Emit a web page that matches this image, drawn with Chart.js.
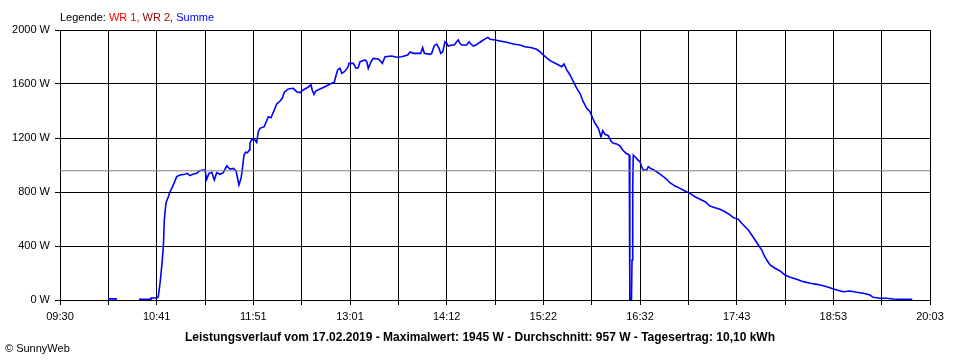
<!DOCTYPE html>
<html>
<head>
<meta charset="utf-8">
<script src="https://cdn.jsdelivr.net/npm/chart.js@4/dist/chart.umd.min.js"></script>
<style>
  html, body { margin: 0; padding: 0; background: #fff; }
  #wrap { position: relative; width: 960px; height: 360px; overflow: hidden; font-family: "Liberation Sans", Arial, sans-serif; }
  #chartBox { position: absolute; left: 0; top: 0; width: 960px; height: 360px; }
  .txt { position: absolute; white-space: nowrap; line-height: 14px; }
  #legend { left: 60px; top: 10px; font-size: 11px; color: #000; }
  #title { left: 0; width: 960px; top: 330px; text-align: center; font-size: 12px; font-weight: bold; color: #000; }
  #copy { left: 5px; top: 341px; font-size: 11px; color: #000; }
</style>
</head>
<body>
<div id="wrap">
  <div id="chartBox"><canvas id="c"></canvas></div>
  <div class="txt" id="legend">Legende: <span style="color:#ff0000">WR 1,</span> <span style="color:#990000">WR 2,</span> <span style="color:#0000ff">Summe</span></div>
  <div class="txt" id="title">Leistungsverlauf vom 17.02.2019 - Maximalwert: 1945 W - Durchschnitt: 957 W - Tagesertrag: 10,10 kWh</div>
  <div class="txt" id="copy">© SunnyWeb</div>
</div>
<script>
// x axis: minutes after 09:30, axis runs 09:30 .. 20:03
const axisStartLabel = '09:30';
const axisSpanMinutes = 633;
const xTickLabels = ['09:30','10:41','11:51','13:01','14:12','15:22','16:32','17:43','18:53','20:03'];
const yTickValues = [0, 400, 800, 1200, 1600, 2000];
const averageWatts = 957;

// "Summe" series (minutes after 09:30, watts); null = gap
const sumMinutes = [
  34.9, 41.5, 45,
  57.5, 65.5, 66.2, 70.6, 71.5, 72.8, 74.0, 75.2, 75.9, 77.1, 78.8, 80.0, 81.3, 82.9, 84.9, 87.3, 90.9, 92.6,
  94.6, 97.0, 99.5, 101.4, 105.5, 106.7, 108.4, 110.4, 112.3, 114.0, 116.4, 118.8, 121.3, 123.7, 126.1, 128.1,
  129.0, 130.2, 131.7, 132.6, 133.9, 135.1, 136.3, 137.7, 138.2, 139.5, 141.9, 143.1, 144.3, 145.5, 148.6, 149.6,
  151.6, 153.5, 155.9, 157.7, 160.1, 161.7, 163.2, 166.1, 169.7, 172.2, 174.6, 177.0, 180.7, 182.6, 183.5, 184.8,
  186.0, 189.2, 192.8, 196.4, 199.6, 200.6, 202.0, 203.7, 205.0, 206.9, 209.3, 210.3, 213.4, 215.4, 217.0, 218.3,
  221.9, 223.2, 224.3, 226.3, 228.0, 231.6, 233.6, 234.5, 236.5, 241.3, 245.0, 248.6, 253.0, 254.7, 257.1, 262.4,
  263.9, 265.1, 269.2, 270.4, 272.3, 274.1, 275.8, 277.0, 278.5, 280.1, 281.4, 282.5, 285.0, 286.9, 288.6, 289.8,
  291.0, 292.3, 295.9, 297.6, 299.0, 300.7, 302.7, 304.3, 306.1, 308.0, 309.9, 311.4, 312.9, 316.5, 320.1, 325.0,
  329.8, 334.7, 338.3, 343.2, 346.8, 349.2, 351.6, 356.5, 361.4, 365.0, 366.7, 368.7, 371.1, 373.5, 376.0, 378.3,
  380.7, 383.2, 385.6, 387.6, 389.3, 391.7, 393.6, 394.9, 396.5, 398.9, 400.7, 402.6, 405.0, 407.4, 409.4, 411.8,
  414.2, 414.6, 415.8, 416.2, 416.7, 417.1, 418.4, 420.0, 422.0, 423.2, 424.4, 426.9, 428.0, 430.5, 432.2, 434.1,
  436.6, 439.0, 441.4, 443.8, 447.5, 451.1, 454.7, 458.4, 462.0, 465.7, 469.3, 472.9, 476.6, 480.2, 483.8, 487.5,
  489.9, 493.5, 496.0, 498.4, 500.8, 503.3, 505.7, 508.1, 510.6, 512.2, 514.2, 516.6, 520.2, 523.9, 527.5, 531.2,
  536.0, 540.9, 545.7, 550.6, 555.4, 560.2, 565.1, 569.9, 574.8, 579.6, 584.5, 589.3, 591.7, 594.2, 596.6, 601.5,
  606.3, 613.6, 620.1
];
const sumWatts = [
  8, 8, null,
  5, 5, 15, 15, 25, 126, 247, 395, 593, 719, 765, 800, 827, 864, 914, 926, 931, 938,
  921, 933, 938, 957, 963, 894, 938, 946, 889, 943, 931, 943, 994, 970, 975, 957,
  913, 852, 901, 963, 1074, 1096, 1090, 1111, 1161, 1190, 1185, 1168, 1247, 1272, 1284, 1309,
  1358, 1350, 1407, 1452, 1474, 1494, 1539, 1563, 1568, 1543, 1536, 1556, 1578, 1593, 1556, 1524,
  1548, 1563, 1580, 1600, 1613, 1654, 1704, 1716, 1679, 1691, 1721, 1753, 1753, 1716, 1721, 1765,
  1778, 1765, 1716, 1765, 1790, 1785, 1765, 1753, 1802, 1807, 1798, 1802, 1815, 1837, 1827, 1827,
  1869, 1827, 1820, 1827, 1884, 1896, 1864, 1827, 1839, 1913, 1901, 1881, 1889, 1889, 1913, 1926,
  1901, 1889, 1889, 1913, 1896, 1881, 1889, 1901, 1913, 1926, 1938, 1945, 1931, 1926, 1919, 1909,
  1896, 1889, 1876, 1869, 1857, 1839, 1815, 1773, 1748, 1728, 1748, 1704, 1667, 1617, 1568, 1531,
  1469, 1420, 1395, 1346, 1309, 1272, 1210, 1254, 1227, 1217, 1180, 1161, 1156, 1141, 1111, 1087,
  1074, 0, 0, 296, 839, 1074, 1061, 1042, 1024, 987, 963, 963, 987, 970, 963, 950,
  933, 913, 894, 869, 844, 827, 807, 790, 765, 746, 728, 696, 684, 672, 654, 630,
  610, 598, 568, 543, 519, 481, 444, 407, 370, 333, 296, 259, 235, 215, 185, 168,
  153, 136, 124, 116, 106, 91, 74, 61, 67, 57, 50, 37, 20, 17, 13, 13,
  7, 5, 5
];

const sumPoints = sumMinutes.map((m, i) => ({ x: m, y: sumWatts[i] }));
const avgPoints = [{ x: 0, y: averageWatts }, { x: axisSpanMinutes, y: averageWatts }];
const FONT = { family: '"Liberation Sans", Arial, sans-serif', size: 11 };

new Chart(document.getElementById('c'), {
  type: 'line',
  data: {
    datasets: [
      { label: 'Durchschnitt', data: avgPoints, borderColor: '#808080', borderWidth: 1, pointRadius: 0, fill: false },
      { label: 'Summe', data: sumPoints, borderColor: '#0000ff', borderWidth: 1.6, pointRadius: 0, fill: false, tension: 0, spanGaps: false }
    ]
  },
  options: {
    responsive: true,
    maintainAspectRatio: false,
    devicePixelRatio: 1,
    animation: false,
    events: [],
    layout: { padding: { top: 30, right: 30, left: 0, bottom: 0 } },
    plugins: { legend: { display: false }, tooltip: { enabled: false }, title: { display: false } },
    scales: {
      x: {
        type: 'linear',
        min: 0,
        max: axisSpanMinutes,
        afterBuildTicks: (scale) => {
          const n = (xTickLabels.length - 1) * 2;
          scale.ticks = Array.from({ length: n + 1 }, (_, i) => ({ value: i * axisSpanMinutes / n }));
        },
        afterFit: (scale) => { scale.height = 60; },
        grid: { color: '#000', lineWidth: 1, drawTicks: true, tickLength: 5, tickColor: '#000' },
        border: { display: true, color: '#000', width: 1 },
        ticks: {
          autoSkip: false, maxRotation: 0, minRotation: 0, padding: 5, color: '#000', font: FONT,
          callback: (v, i) => (i % 2 === 0 ? xTickLabels[i / 2] : '')
        }
      },
      y: {
        min: 0,
        max: 2000,
        afterBuildTicks: (scale) => { scale.ticks = yTickValues.map(v => ({ value: v })); },
        afterFit: (scale) => { scale.width = 60; },
        grid: { color: '#000', lineWidth: 1, drawTicks: true, tickLength: 5, tickColor: '#000' },
        border: { display: true, color: '#000', width: 1 },
        ticks: { padding: 5, color: '#000', font: FONT, callback: (v) => v + ' W' }
      }
    }
  }
});
</script>
</body>
</html>
